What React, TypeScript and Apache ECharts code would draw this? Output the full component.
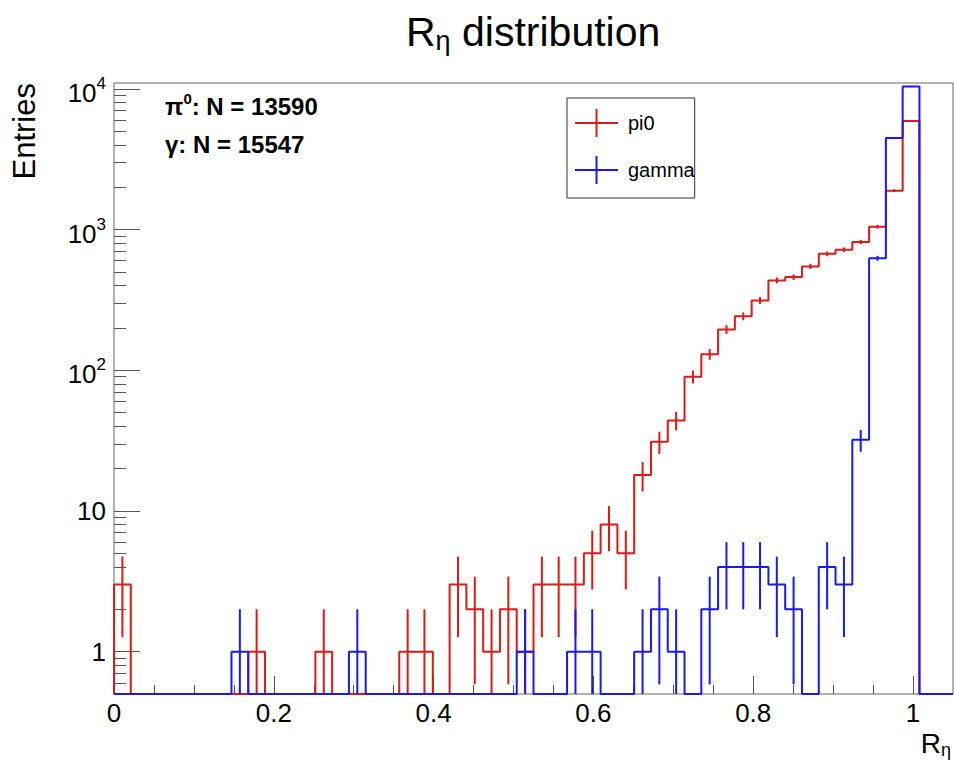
import React, { useEffect, useRef } from 'react';
import * as echarts from 'echarts';

// ---- histogram definition ----
const X_MIN = 0;
const X_MAX = 1.05;
const N_BINS = 50;
const Y_MIN = 0.5;
const Y_MAX = 11000;

// ---- bin contents ----
const pi0Counts = [
  3, 0, 0, 0, 0, 0, 0, 0, 1, 0,
  0, 0, 1, 0, 0, 0, 0, 1, 1, 0,
  3, 2, 1, 2, 1, 3, 3, 3, 5, 8,
  5, 18, 31, 44, 90, 130, 195, 242, 313, 435,
  459, 547, 672, 718, 814, 1045, 1890, 5900, 0, 0,
];
const gammaCounts = [
  0, 0, 0, 0, 0, 0, 0, 1, 0, 0,
  0, 0, 0, 0, 1, 0, 0, 0, 0, 0,
  0, 0, 0, 0, 1, 0, 0, 1, 1, 0,
  0, 1, 2, 1, 0, 2, 4, 4, 4, 3,
  2, 0, 4, 3, 32, 625, 4480, 10370, 0, 0,
];
const seriesNames = ['pi0', 'gamma'];

// ---- ticks and labels ----
const xMajorTicks = [0, 0.2, 0.4, 0.6, 0.8, 1.0];
const xTickLabels = ['0', '0.2', '0.4', '0.6', '0.8', '1'];
const xMinorTicks = [0.05, 0.1, 0.15, 0.25, 0.3, 0.35, 0.45, 0.5, 0.55, 0.65, 0.7, 0.75, 0.85, 0.9, 0.95];
const yMajorTicks = [1, 10, 100, 1000, 10000];
const yTickLabels = ['1', '10', '10^2', '10^3', '10^4'];
const yMinorTicks = [
  0.6, 0.7, 0.8, 0.9,
  2, 3, 4, 5, 6, 7, 8, 9,
  20, 30, 40, 50, 60, 70, 80, 90,
  200, 300, 400, 500, 600, 700, 800, 900,
  2000, 3000, 4000, 5000, 6000, 7000, 8000, 9000,
];
const statsLines = ['{a|\u03c0}{s|0}{a|: N = 13590}', '{a|\u03b3: N = 15547}'];

const RED = '#dd1a1a';
const BLUE = '#1a1aee';
const FONT = '"Liberation Sans", Arial, Helvetica, sans-serif';

const BIN_W = (X_MAX - X_MIN) / N_BINS;

function stepData(counts: number[]) {
  const pts: number[][] = [[X_MIN, Y_MIN]];
  counts.forEach((c, i) => pts.push([X_MIN + i * BIN_W, Math.max(c, Y_MIN)]));
  pts.push([X_MAX, Math.max(counts[counts.length - 1], Y_MIN)]);
  return pts;
}

function errData(counts: number[]) {
  return counts
    .map((c, i) => [X_MIN + (i + 0.5) * BIN_W, c])
    .filter((d) => d[1] > 0);
}

function errRender(color: string) {
  return (params: any, api: any) => {
    const x = api.value(0);
    const n = api.value(1);
    const e = Math.sqrt(n);
    const lo = Math.max(n - e, Y_MIN);
    const hi = Math.min(n + e, Y_MAX);
    const p1 = api.coord([x, hi]);
    const p2 = api.coord([x, lo]);
    return {
      type: 'line',
      shape: { x1: p1[0], y1: p1[1], x2: p2[0], y2: p2[1] },
      style: { stroke: color, lineWidth: 2 },
    };
  };
}

function yLabel(v: number) {
  const idx = yMajorTicks.findIndex((t) => Math.abs(t - v) / t < 1e-6);
  if (idx < 0) return '';
  const s = yTickLabels[idx];
  if (s.indexOf('^') >= 0) {
    const [b, e] = s.split('^');
    return `{m|${b}}{s|${e}}`;
  }
  return `{n|${s}}`;
}

function xLabel(v: number) {
  const idx = xMajorTicks.findIndex((t) => Math.abs(t - v) < 1e-6);
  return idx < 0 ? '' : xTickLabels[idx];
}

const LEGEND_ICON = 'path://M0,13L43,13L43,15L0,15Z M20.5,0L22.5,0L22.5,28L20.5,28Z';

const statsRich = {
  a: { fontSize: 24, fontWeight: 'bold', lineHeight: 26, padding: [4, 0, 0, 0], fontFamily: FONT, fill: '#000' },
  s: { fontSize: 15, fontWeight: 'bold', lineHeight: 25, verticalAlign: 'top', fontFamily: FONT, fill: '#000' },
};

export default function App() {
  const ref = useRef<HTMLDivElement>(null);
  useEffect(() => {
    if (!ref.current) return;
    const chart = echarts.init(ref.current, undefined, { renderer: 'svg' });
    const tickStyle = { color: '#555', width: 1 };
    chart.setOption({
      animation: false,
      backgroundColor: '#fff',
      title: {
        text: '{r|R}{e|\u03b7}{d| distribution}',
        left: 406,
        top: 10,
        padding: 0,
        textStyle: {
          color: '#000',
          fontWeight: 'normal',
          fontFamily: FONT,
          rich: {
            r: { fontSize: 41, lineHeight: 44, fontFamily: FONT, color: '#000' },
            e: { fontSize: 27, lineHeight: 30, verticalAlign: 'bottom', fontFamily: FONT, color: '#000' },
            d: { fontSize: 41, lineHeight: 44, fontFamily: FONT, color: '#000' },
          },
        },
      },
      legend: {
        orient: 'vertical',
        left: 567,
        top: 98,
        padding: [11, 0, 14, 8],
        itemWidth: 43,
        itemHeight: 28,
        itemGap: 19,
        borderColor: '#333',
        borderWidth: 1,
        backgroundColor: '#fff',
        itemStyle: { borderWidth: 0 },
        textStyle: { fontSize: 20, color: '#000', fontFamily: FONT, width: 181, padding: [0, 0, 0, 5] },
        data: seriesNames.map((n) => ({ name: n, icon: LEGEND_ICON })),
      },
      grid: {
        left: 114,
        right: 1,
        top: 83,
        bottom: 75,
        containLabel: false,
        show: true,
        borderColor: '#666',
        borderWidth: 1,
        backgroundColor: 'transparent',
      },
      xAxis: [
        {
          type: 'value',
          min: X_MIN,
          max: X_MAX,
          interval: 0.2,
          axisLine: { show: false },
          splitLine: { show: false },
          axisTick: { show: true, inside: true, length: 18, lineStyle: tickStyle, customValues: xMajorTicks },
          axisLabel: {
            customValues: xMajorTicks,
            formatter: xLabel,
            fontSize: 26,
            color: '#000',
            fontFamily: FONT,
            margin: 6,
          },
        },
        {
          type: 'value',
          min: X_MIN,
          max: X_MAX,
          position: 'bottom',
          axisLine: { show: false },
          splitLine: { show: false },
          axisLabel: { show: false },
          axisTick: { show: true, inside: true, length: 9, lineStyle: tickStyle, customValues: xMinorTicks },
        },
      ],
      yAxis: [
        {
          type: 'log',
          logBase: 10,
          min: Y_MIN,
          max: Y_MAX,
          position: 'left',
          axisLine: { show: false },
          splitLine: { show: false },
          axisTick: { show: true, inside: true, length: 26, lineStyle: tickStyle, customValues: yMajorTicks },
          axisLabel: {
            customValues: yMajorTicks,
            formatter: yLabel,
            color: '#000',
            fontFamily: FONT,
            fontSize: 26,
            margin: 8,
            rich: {
              n: { fontSize: 26, lineHeight: 26, fontFamily: FONT, color: '#000' },
              m: { fontSize: 26, lineHeight: 26, padding: [8, 0, 0, 0], fontFamily: FONT, color: '#000' },
              s: { fontSize: 17, lineHeight: 28, verticalAlign: 'top', fontFamily: FONT, color: '#000' },
            },
          },
        },
        {
          type: 'log',
          logBase: 10,
          min: Y_MIN,
          max: Y_MAX,
          position: 'left',
          offset: 0,
          axisLine: { show: false },
          splitLine: { show: false },
          axisLabel: { show: false },
          axisTick: { show: true, inside: true, length: 12, lineStyle: tickStyle, customValues: yMinorTicks },
        },
      ],
      series: [
        {
          name: seriesNames[0],
          type: 'line',
          step: 'end',
          data: stepData(pi0Counts),
          showSymbol: false,
          symbol: 'none',
          clip: false,
          color: RED,
          itemStyle: { color: RED },
          lineStyle: { color: RED, width: 2 },
          z: 2,
        },
        {
          type: 'custom',
          data: errData(pi0Counts),
          renderItem: errRender(RED),
          encode: { x: 0, y: 1 },
          z: 3,
        },
        {
          name: seriesNames[1],
          type: 'line',
          step: 'end',
          data: stepData(gammaCounts),
          showSymbol: false,
          symbol: 'none',
          clip: false,
          color: BLUE,
          itemStyle: { color: BLUE },
          lineStyle: { color: BLUE, width: 2 },
          z: 4,
        },
        {
          type: 'custom',
          data: errData(gammaCounts),
          renderItem: errRender(BLUE),
          encode: { x: 0, y: 1 },
          z: 5,
        },
      ],
      graphic: [
        {
          type: 'text',
          x: 165,
          y: 91.4,
          style: {
            text: statsLines[0],
            align: 'left',
            verticalAlign: 'top',
            fill: '#000',
            rich: statsRich,
          },
        },
        {
          type: 'text',
          x: 165,
          y: 129.7,
          style: {
            text: statsLines[1],
            align: 'left',
            verticalAlign: 'top',
            fill: '#000',
            rich: statsRich,
          },
        },
        {
          type: 'text',
          x: 951,
          y: 728.6,
          style: {
            text: '{m|R}{e|\u03b7}',
            align: 'right',
            verticalAlign: 'top',
            fill: '#000',
            rich: {
              m: { fontSize: 28, lineHeight: 30, fontFamily: FONT, fill: '#000' },
              e: { fontSize: 18, lineHeight: 20, verticalAlign: 'bottom', fontFamily: FONT, fill: '#000' },
            },
          },
        },
        {
          type: 'text',
          x: 24.5,
          y: 83,
          rotation: Math.PI / 2,
          style: {
            text: 'Entries',
            fontSize: 31,
            fontFamily: FONT,
            align: 'right',
            verticalAlign: 'middle',
            fill: '#000',
          },
        },
      ],
    });
    return () => chart.dispose();
  }, []);
  return (
    <div
      ref={ref}
      style={{ position: 'fixed', left: 0, top: 0, width: 954, height: 769, background: '#fff' }}
    />
  );
}
